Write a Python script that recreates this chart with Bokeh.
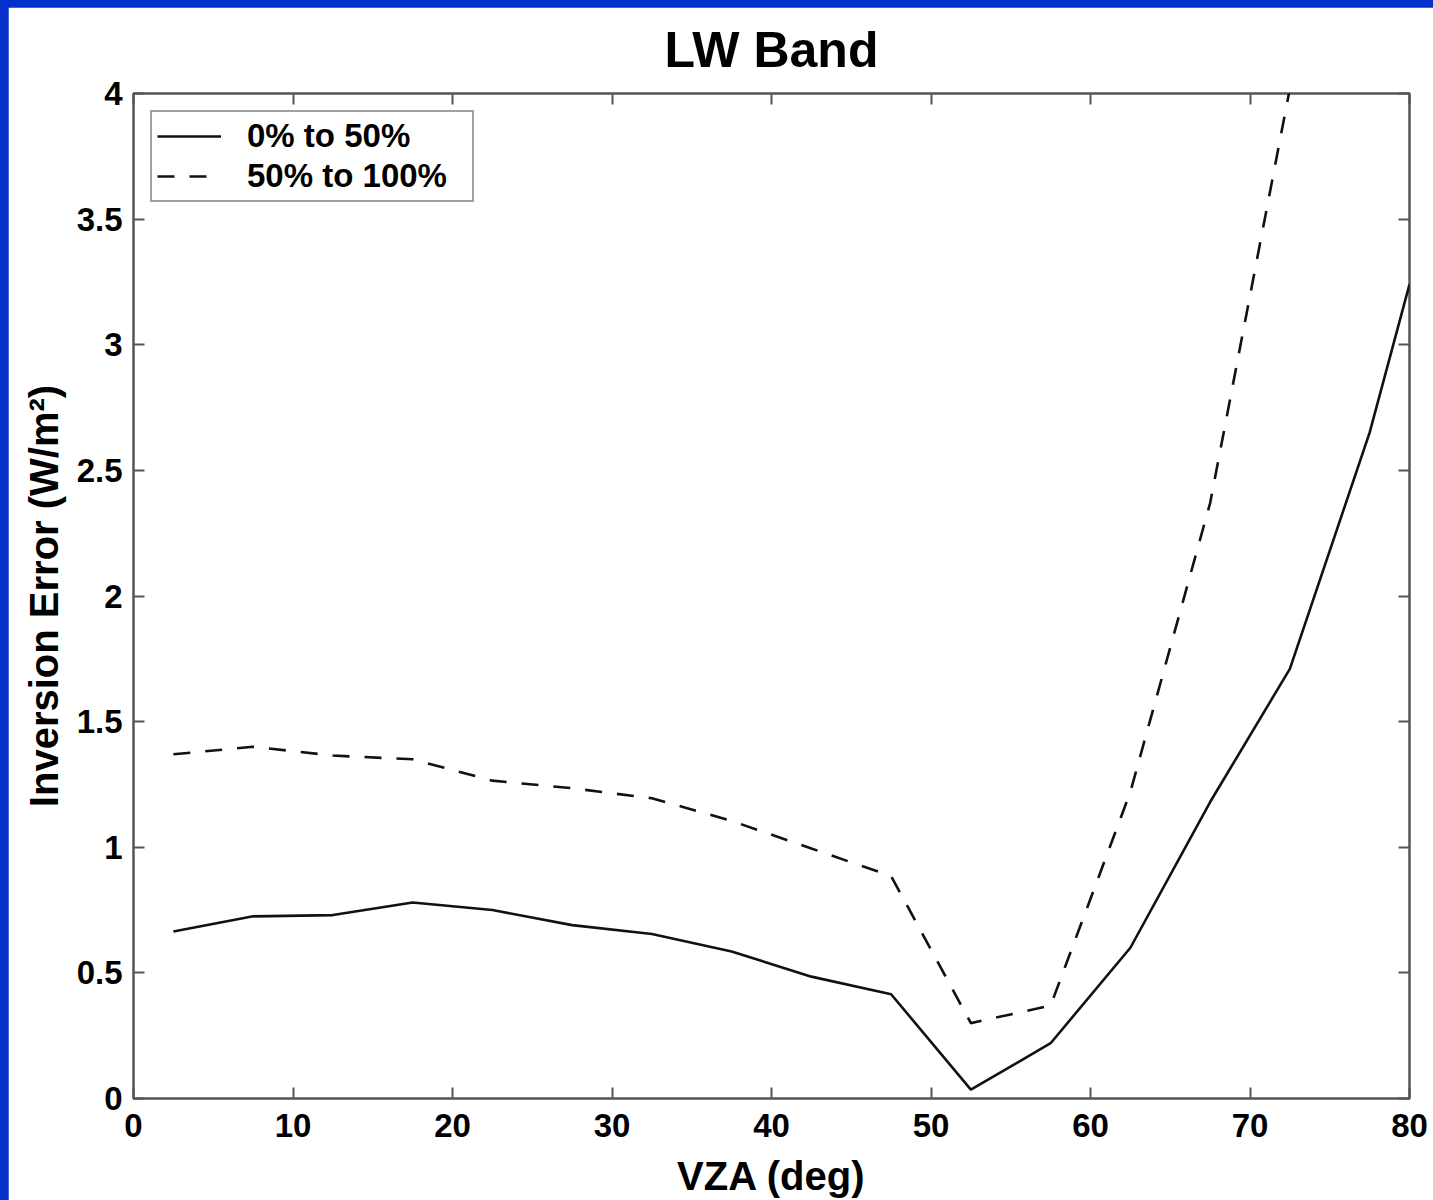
from bokeh.plotting import figure
from bokeh.models import (Range1d, LinearAxis, FixedTicker, Legend, LegendItem,
                          CustomJSTickFormatter)
from bokeh.layouts import column
from bokeh.embed import file_html
from bokeh.resources import INLINE

# Inversion error vs. viewing zenith angle, two cloud-fraction classes
vza_low = [2.5, 7.5, 12.5, 17.5, 22.5, 27.5, 32.5, 37.5, 42.5, 47.5,
           52.5, 57.5, 62.5, 67.5, 72.5, 77.5, 80.0]
err_low = [0.665, 0.725, 0.73, 0.78, 0.75, 0.69, 0.655, 0.585, 0.485, 0.415,
           0.035, 0.22, 0.60, 1.18, 1.71, 2.65, 3.24]

vza_high = [2.5, 7.5, 12.5, 17.5, 22.5, 27.5, 32.5, 37.5, 42.5, 47.5,
            52.5, 57.5, 62.5, 67.5, 72.5]
err_high = [1.37, 1.40, 1.365, 1.35, 1.265, 1.235, 1.195, 1.105, 0.995, 0.885,
            0.30, 0.37, 1.22, 2.37, 4.02]

series_labels = ["0% to 50%", "50% to 100%"]

x_ticks = [0, 10, 20, 30, 40, 50, 60, 70, 80]
y_ticks = [0, 0.5, 1, 1.5, 2, 2.5, 3, 3.5, 4]
y_tick_labels = ["0", "0.5", "1", "1.5", "2", "2.5", "3", "3.5", "4"]

FONT = "Liberation Sans"
AXIS_GREY = "#555555"
PAGE_BLUE = "#0630cc"

p = figure(width=1425, height=1193, output_backend="svg", toolbar_location=None,
           x_range=Range1d(0, 80), y_range=Range1d(0, 4),
           min_border_left=125, min_border_right=24,
           min_border_top=85, min_border_bottom=102,
           background_fill_color="white", border_fill_color="white",
           title="LW Band")
p.margin = (7, 0, 0, 8)

p.title.align = "center"
p.title.vertical_align = "top"
p.title.text_font = FONT
p.title.text_font_style = "bold"
p.title.text_font_size = "50px"
p.title.text_color = "black"
p.title.standoff = 28

p.grid.visible = False
p.outline_line_color = AXIS_GREY
p.outline_line_width = 2.5


def style_axis(ax, labels=True):
    ax.axis_line_color = None
    ax.major_tick_in = 11
    ax.major_tick_out = 0
    ax.major_tick_line_color = AXIS_GREY
    ax.major_tick_line_width = 2
    ax.minor_tick_line_color = None
    ax.major_label_text_font = FONT
    ax.major_label_text_font_style = "bold"
    ax.major_label_text_font_size = "33px"
    ax.major_label_text_color = "black"
    ax.axis_label_text_font = FONT
    ax.axis_label_text_font_style = "bold"
    ax.axis_label_text_font_size = "40px"
    ax.axis_label_text_color = "black"
    if not labels:
        ax.formatter = CustomJSTickFormatter(code="return ''")
        ax.major_label_standoff = 0


xa = p.xaxis[0]
ya = p.yaxis[0]
xa.ticker = FixedTicker(ticks=x_ticks)
ya.ticker = FixedTicker(ticks=y_ticks)
ya.major_label_overrides = {t: s for t, s in zip(y_ticks, y_tick_labels)}
style_axis(xa)
style_axis(ya)
xa.axis_label = "VZA (deg)"
ya.axis_label = "Inversion Error (W/m\u00b2)"
xa.major_label_standoff = 15
xa.axis_label_standoff = 14
ya.major_label_standoff = 11
ya.axis_label_standoff = 8

top = LinearAxis(ticker=FixedTicker(ticks=x_ticks))
right = LinearAxis(ticker=FixedTicker(ticks=y_ticks))
style_axis(top, labels=False)
style_axis(right, labels=False)
p.add_layout(top, "above")
p.add_layout(right, "right")

r_low = p.line(vza_low, err_low, line_color="#111111", line_width=2.6)
r_high = p.line(vza_high, err_high, line_color="#111111", line_width=2.6,
                line_dash="17 15")

legend = Legend(items=[LegendItem(label=series_labels[0], renderers=[r_low]),
                       LegendItem(label=series_labels[1], renderers=[r_high])],
                location="top_left")
legend.margin = 17
legend.padding = 5
legend.spacing = 2
legend.glyph_width = 64
legend.glyph_height = 34
legend.label_height = 34
legend.label_width = 220
legend.label_standoff = 26
legend.label_text_font = FONT
legend.label_text_font_style = "bold"
legend.label_text_font_size = "33px"
legend.label_text_color = "black"
legend.border_line_color = "#444444"
legend.border_line_width = 2
legend.background_fill_color = "white"
legend.background_fill_alpha = 1
p.add_layout(legend)

page = column(p, width=1433, height=1200, styles={"background-color": PAGE_BLUE})

open("out.html", "w").write(file_html(page, INLINE))
